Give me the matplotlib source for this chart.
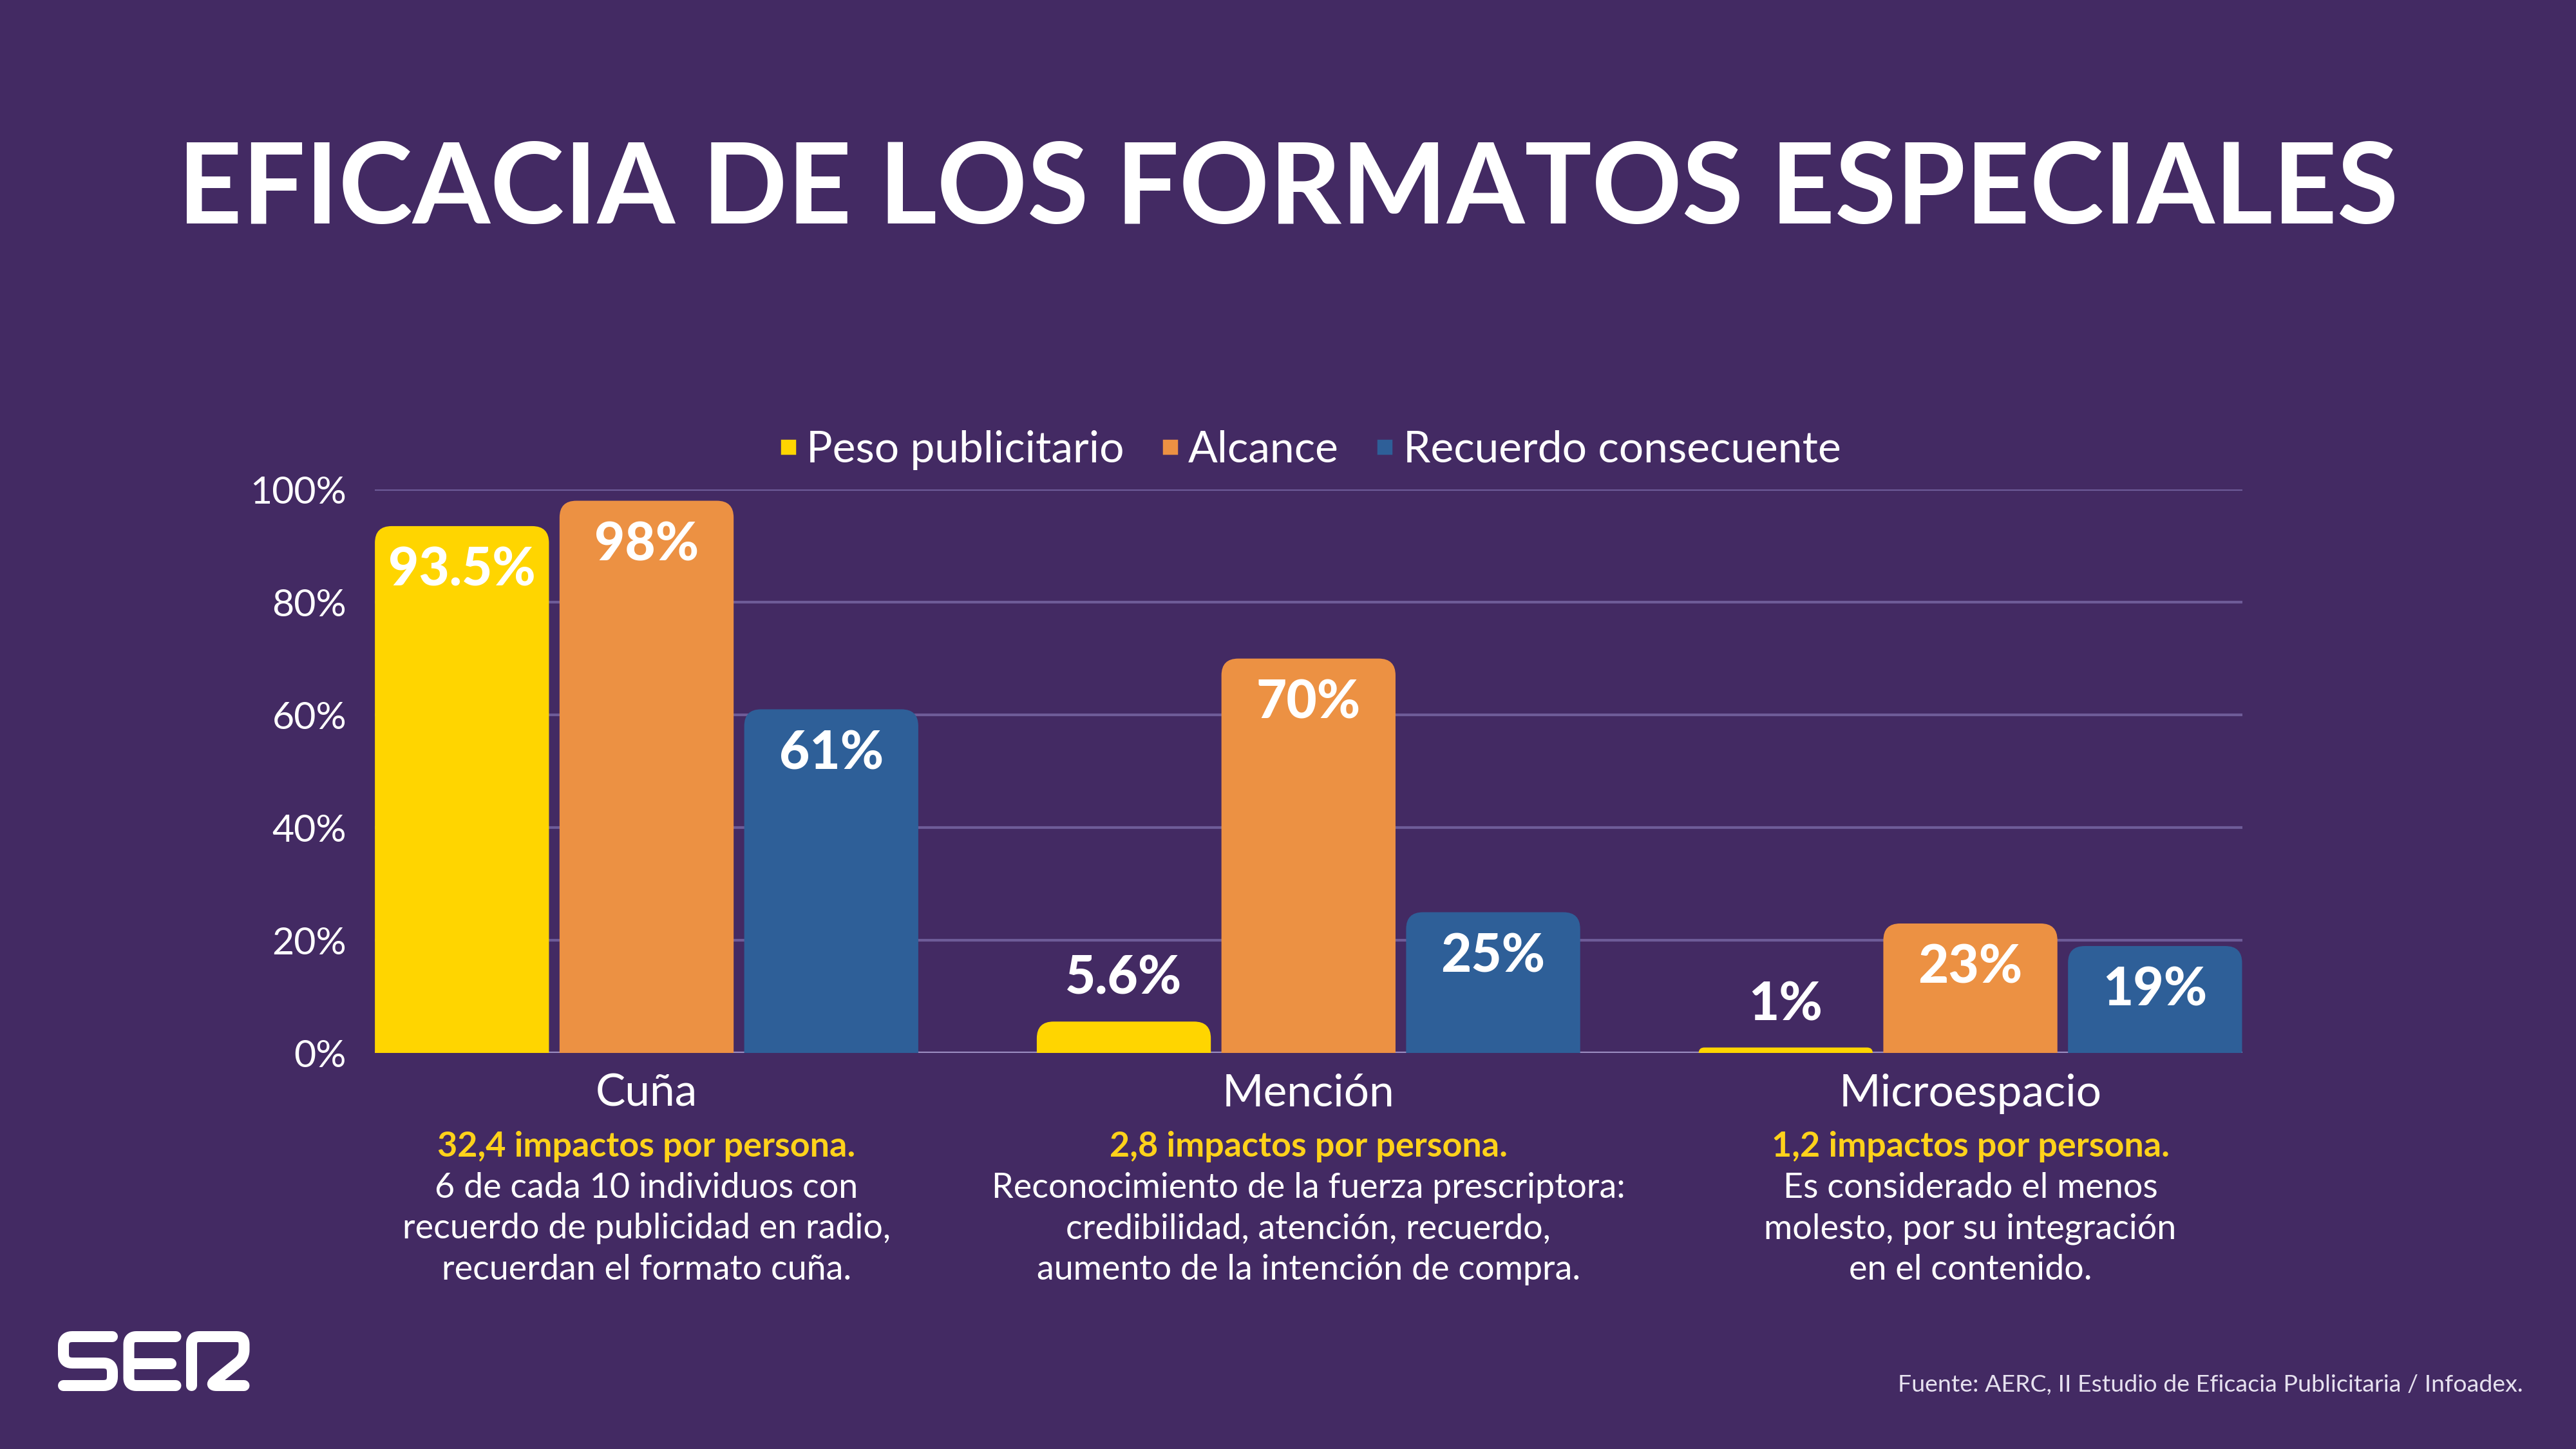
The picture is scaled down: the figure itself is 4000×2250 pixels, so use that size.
import matplotlib.pyplot as plt
import matplotlib.transforms as mtrans
import numpy as np
from matplotlib.patches import FancyBboxPatch
from matplotlib.lines import Line2D

plt.rcParams['font.family'] = ['Lato', 'DejaVu Sans']

# data
categories = ['Cuña', 'Mención', 'Microespacio']
series = ['Peso publicitario', 'Alcance', 'Recuerdo consecuente']
peso = [93.5, 5.6, 1]
alcance = [98, 70, 23]
recuerdo = [61, 25, 19]
value_labels = [['93.5%', '5.6%', '1%'],
                ['98%', '70%', '23%'],
                ['61%', '25%', '19%']]
yticks = [0, 20, 40, 60, 80, 100]
highlights = ['32,4 impactos por persona.',
              '2,8 impactos por persona.',
              '1,2 impactos por persona.']
notes = [['6 de cada 10 individuos con', 'recuerdo de publicidad en radio,', 'recuerdan el formato cuña.'],
         ['Reconocimiento de la fuerza prescriptora:', 'credibilidad, atención, recuerdo,', 'aumento de la intención de compra.'],
         ['Es considerado el menos', 'molesto, por su integración', 'en el contenido.']]
title = 'EFICACIA DE LOS FORMATOS ESPECIALES'
source = 'Fuente: AERC, II Estudio de Eficacia Publicitaria / Infoadex.'

bg = '#432A63'
colors = ['#FFD500', '#EC9143', '#2E5F98']
yellow_txt = '#FFD21A'


def rounded(pts, r, n=10):
    # polyline with rounded corners (quadratic bezier at each inner vertex)
    pts = np.asarray(pts, float)
    out = [pts[0]]
    for i in range(1, len(pts) - 1):
        p0, p1, p2 = pts[i - 1], pts[i], pts[i + 1]
        l1 = np.linalg.norm(p1 - p0)
        l2 = np.linalg.norm(p2 - p1)
        a = p1 - (p1 - p0) / l1 * min(r, l1 / 2)
        b = p1 + (p2 - p1) / l2 * min(r, l2 / 2)
        for t in np.linspace(0, 1, n):
            out.append((1 - t) ** 2 * a + 2 * (1 - t) * t * p1 + t ** 2 * b)
    out.append(pts[-1])
    return np.array(out)


fig = plt.figure(figsize=(16, 9), dpi=250, facecolor=bg)
ax_rect = [0.1454, 0.2732, 0.7251, 0.389]
ax = fig.add_axes(ax_rect)
ax.set_facecolor(bg)

x = np.arange(len(categories))
width = 0.263
step = 0.279
xlim = (-0.411, 2.411)
ax.set_xlim(*xlim)
ax.set_ylim(0, 100)

# aspect of data units (y per x) so rounded corners look circular
px_w = ax_rect[2] * 16 * 250
px_h = ax_rect[3] * 9 * 250
asp = (100 / px_h) / ((xlim[1] - xlim[0]) / px_w)
r_x = 26 * (xlim[1] - xlim[0]) / px_w

for i, vals in enumerate([peso, alcance, recuerdo]):
    bars = ax.bar(x + (i - 1) * step, vals, width, color=colors[i])
    for j, b in enumerate(bars):
        b.set_visible(False)
        h = b.get_height()
        ry = min(r_x * asp, h)
        rr = ry / asp
        p = FancyBboxPatch((b.get_x(), -ry), b.get_width(), h + ry,
                           boxstyle=f'round,pad=0,rounding_size={rr}',
                           mutation_aspect=asp, fc=colors[i], ec='none', zorder=3)
        ax.add_patch(p)
        off = -20 if h > 15 else 19
        ax.annotate(value_labels[i][j], (b.get_x() + b.get_width() / 2, h),
                    xytext=(0, off), textcoords='offset points',
                    ha='center', va='center', fontsize=23.5, fontweight='black',
                    color='white', zorder=4)

ax.set_axisbelow(True)
ax.yaxis.grid(True, color='#6E5C98', lw=1.2)
ax.axhline(0, color='#9A8CC0', lw=1.5, zorder=1)
for s in ax.spines.values():
    s.set_visible(False)
ax.set_yticks(yticks, [f'{t}%' for t in yticks])
ax.set_xticks(x, categories)
ax.tick_params(axis='y', length=0, pad=12.5, labelsize=17, labelcolor='white')
ax.tick_params(axis='x', length=0, pad=9, labelsize=20, labelcolor='white')

# legend
handles = [Line2D([], [], marker='s', ls='none', ms=6, mfc=c, mec=c) for c in colors]
leg = fig.legend(handles, series, loc='center', bbox_to_anchor=(0.5077, 0.6895),
                 ncol=3, frameon=False, fontsize=19.5, handlelength=0.6,
                 handletextpad=0.12, columnspacing=0.75, labelcolor='white')

# texts under groups
blend = mtrans.blended_transform_factory(ax.transData, fig.transFigure)
for j in range(len(categories)):
    ax.text(x[j], 0.2086, highlights[j], transform=blend, ha='center', va='center',
            fontsize=15.5, fontweight='bold', color=yellow_txt)
    for k, line in enumerate(notes[j]):
        ax.text(x[j], 0.1803 - k * 0.0283, line, transform=blend, ha='center',
                va='center', fontsize=15.5, color='white')

fig.text(0.5, 0.868, title, ha='center', va='center', fontsize=50,
         fontweight='bold', color='white')
fig.text(0.9795, 0.0442, source, ha='right', va='center', fontsize=10.8,
         color='#E6E1EF')

# SER logo drawn with round-capped strokes, in pixel coordinates
lax = fig.add_axes([0, 0, 1, 1], facecolor='none')
lax.set_xlim(0, 4000)
lax.set_ylim(2250, 0)
lax.axis('off')
top, mid, bot = 2075.5, 2116.5, 2151.5
logo = [
    rounded([(174.5, top), (98.5, top), (98.5, mid), (174.5, mid), (174.5, bot), (98.5, bot)], 14),
    rounded([(273, top), (200, top), (200, bot), (273, bot)], 12),
    [(200, mid), (265, mid)],
    rounded([(297.5, bot), (297.5, top), (379, top), (379, 2108), (325, bot), (379, bot)], 12),
]
for pts in logo:
    pts = np.asarray(pts)
    lax.plot(pts[:, 0], pts[:, 1], color='white', lw=4.9,
             solid_capstyle='round', solid_joinstyle='round')

fig.savefig('out.png', dpi=250, facecolor=bg)
